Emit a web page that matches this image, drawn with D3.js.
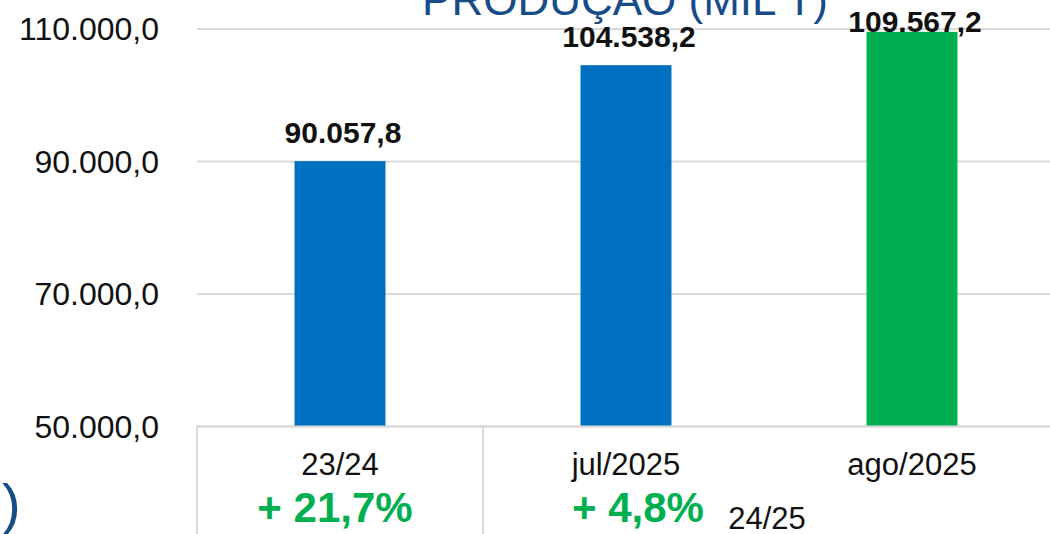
<!DOCTYPE html>
<meta charset="utf-8">
<style>

html, body {
  margin: 0;
  padding: 0;
  background: #fff;
}

svg {
  display: block;
  font-family: "Liberation Sans", Arial, sans-serif;
}

.grid line {
  stroke: #d9d9d9;
  stroke-width: 2px;
}

.ytick text {
  font-size: 32px;
  fill: #111;
}

.cat text {
  font-size: 31px;
  fill: #111;
}

.value-label {
  font-size: 30px;
  font-weight: bold;
  fill: #111;
}

.change {
  font-size: 42px;
  font-weight: bold;
  fill: #00b050;
}

.title {
  font-size: 44px;
  fill: #174c88;
}

</style>
<svg class="chart"></svg>
<script src="https://d3js.org/d3.v7.min.js"></script>
<script>

var width = 1050;
var height = 534;

// data
var categories = ['23/24', 'jul/2025', 'ago/2025'];
var values = [90057.8, 104538.2, 109567.2];
var barColors = ['#0070c0', '#0070c0', '#00b050'];
var yTicks = [50000, 70000, 90000, 110000];
var groups = [{name: '', from: 0, to: 0}, {name: '24/25', from: 1, to: 2}];
var changes = ['+ 21,7%', '+ 4,8%', ''];
var changeOffsets = [-5, 12, 0];

var svg = d3.select('svg.chart')
  .attr('width', width)
  .attr('height', height);

var x = d3.scaleBand()
  .domain(categories)
  .range([197, 1055])
  .paddingInner(0.682)
  .paddingOuter(0.341);

var step = x.step();
var plotLeft = x.range()[0];

var y = d3.scaleLinear()
  .domain([50000, 110000])
  .range([426.5, 29]);

var fmt = function (v, digits) {
  var s = v.toFixed(digits).split('.');
  var int = s[0].replace(/\B(?=(\d{3})+(?!\d))/g, '.');
  return int + ',' + s[1];
};

// title (partly cut at the top, as in the source image)
svg.append('text')
  .attr('class', 'title')
  .attr('x', 625)
  .attr('y', 15)
  .attr('text-anchor', 'middle')
  .text('PRODUÇÃO (MIL T)');

svg.append('text')
  .attr('class', 'title')
  .attr('x', 2)
  .attr('y', 523)
  .style('font-size', '56px')
  .text(')');

// gridlines
svg.append('g')
    .attr('class', 'grid')
  .selectAll('line')
  .data(yTicks)
  .enter().append('line')
    .attr('x1', plotLeft)
    .attr('x2', width)
    .attr('y1', function (d) { return y(d); })
    .attr('y2', function (d) { return y(d); });

// y labels
svg.append('g')
    .attr('class', 'ytick')
  .selectAll('text')
  .data(yTicks)
  .enter().append('text')
    .attr('x', 159)
    .attr('y', function (d) { return y(d); })
    .attr('dy', '0.35em')
    .attr('text-anchor', 'end')
    .text(function (d) { return fmt(d, 1); });

// bars
svg.append('g')
  .selectAll('rect')
  .data(values)
  .enter().append('rect')
    .attr('x', function (d, i) { return x(categories[i]); })
    .attr('y', function (d) { return y(d); })
    .attr('width', x.bandwidth())
    .attr('height', function (d) { return y(50000) - y(d); })
    .attr('fill', function (d, i) { return barColors[i]; });

// value labels, kept inside the chart area at the top
svg.append('g')
  .selectAll('text')
  .data(values)
  .enter().append('text')
    .attr('class', 'value-label')
    .attr('x', function (d, i) { return x(categories[i]) + x.bandwidth() / 2 + 3; })
    .attr('y', function (d) { return Math.max(y(d) - 18, 32); })
    .attr('text-anchor', 'middle')
    .text(function (d) { return fmt(d, 1); });

// axis line redrawn over bars
svg.append('line')
  .attr('x1', plotLeft)
  .attr('x2', width)
  .attr('y1', y(50000))
  .attr('y2', y(50000))
  .attr('stroke', '#d9d9d9')
  .attr('stroke-width', 2);

// multi-level category axis
var cat = svg.append('g').attr('class', 'cat');

cat.selectAll('text.c')
  .data(categories)
  .enter().append('text')
    .attr('class', 'c')
    .attr('x', function (d) { return x(d) + x.bandwidth() / 2; })
    .attr('y', 475)
    .attr('text-anchor', 'middle')
    .text(function (d) { return d; });

var dividers = [plotLeft];
groups.forEach(function (g) {
  dividers.push(plotLeft + (g.to + 1) * step);
});

cat.selectAll('line')
  .data(dividers)
  .enter().append('line')
    .attr('x1', function (d) { return d; })
    .attr('x2', function (d) { return d; })
    .attr('y1', y(50000))
    .attr('y2', height)
    .attr('stroke', '#d9d9d9')
    .attr('stroke-width', 2);

cat.selectAll('text.g')
  .data(groups.filter(function (g) { return g.name; }))
  .enter().append('text')
    .attr('class', 'g')
    .attr('x', function (g) { return plotLeft + (g.from + g.to + 1) / 2 * step - 2; })
    .attr('y', 529)
    .attr('text-anchor', 'middle')
    .text(function (g) { return g.name; });

// change annotations
svg.append('g')
  .selectAll('text')
  .data(changes)
  .enter().append('text')
    .attr('class', 'change')
    .attr('x', function (d, i) { return x(categories[i]) + x.bandwidth() / 2 + changeOffsets[i]; })
    .attr('y', 522)
    .attr('text-anchor', 'middle')
    .text(function (d) { return d; });

</script>
